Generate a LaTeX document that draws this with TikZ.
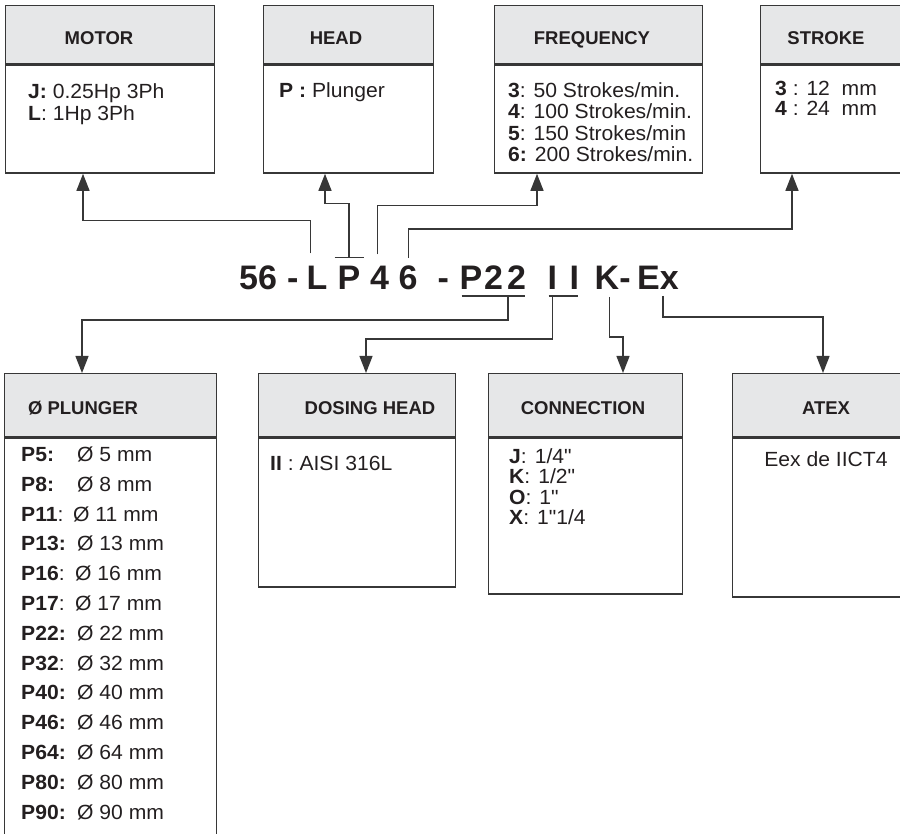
\documentclass[tikz,border=0pt]{standalone}
\usepackage{fontspec}
\setmainfont{Liberation Sans}
\newfontfamily\bodyfont[FakeStretch=1.03,Ligatures=TeXOff]{Liberation Sans}
\usetikzlibrary{arrows.meta,positioning}
\definecolor{HeadGray}{RGB}{230,231,232}
\definecolor{BoxLine}{RGB}{55,55,55}
\definecolor{InkBlack}{RGB}{35,31,32}

\tikzset{
	hdbox/.style={draw=BoxLine, fill=HeadGray, line width=1.4pt, inner sep=0pt, anchor=north west},
	bdbox/.style={draw=BoxLine, line width=1.4pt, inner sep=0pt, anchor=north west},
	hdtxt/.style={font=\fontsize{18.5}{20}\selectfont\bfseries, text=InkBlack, inner sep=0pt, anchor=base},
	bdtxt/.style={font=\bodyfont\fontsize{20.5}{22}\selectfont, text=InkBlack, inner sep=0pt, anchor=base west},
	codetxt/.style={font=\fontsize{34}{36}\selectfont\bfseries, text=InkBlack, inner sep=0pt, anchor=base west},
	conn/.style={draw=BoxLine, line width=1.3pt},
	arr/.style={conn, -{Triangle[length=17pt,width=13pt]}}
}

\begin{document}
\begin{tikzpicture}[x=1pt, y=-1pt]
		\useasboundingbox (0,0) rectangle (900,834);
		\clip (0,0) rectangle (900,834);
		
		% upper boxes
		\node[hdbox, minimum width=209, minimum height=58] (motorhd) at (5,5) {};
		\node[bdbox, minimum width=209, minimum height=108] (motorbd) at (motorhd.south west) {};
		\node[hdbox, minimum width=170, minimum height=58] (headhd) at (263,5) {};
		\node[bdbox, minimum width=170, minimum height=108] (headbd) at (headhd.south west) {};
		\node[hdbox, minimum width=208, minimum height=58] (freqhd) at (494,5) {};
		\node[bdbox, minimum width=208, minimum height=108] (freqbd) at (freqhd.south west) {};
		\node[hdbox, minimum width=160, minimum height=58] (strokehd) at (760,5) {};
		\node[bdbox, minimum width=160, minimum height=108] (strokebd) at (strokehd.south west) {};
		
		\node[hdtxt] (motortx) at ([xshift=94pt,yshift=-40pt]motorhd.north west) {MOTOR};
		\node[hdtxt] (headtx) at ([xshift=73pt,yshift=-40pt]headhd.north west) {HEAD};
		\node[hdtxt] (freqtx) at ([xshift=98pt,yshift=-40pt]freqhd.north west) {FREQUENCY};
		\node[hdtxt] (stroketx) at ([xshift=66pt,yshift=-40pt]strokehd.north west) {STROKE};
		
		\foreach \t [count=\i from 0] in {{\textbf{J:} 0.25Hp 3Ph}, {\textbf{L}: 1Hp 3Ph}}
			\node[bdtxt] (mot\i) at ([xshift=23pt,yshift={-34pt-22.5pt*\i}]motorbd.north west) {\t};
		\node[bdtxt] (hd0) at ([xshift=16pt,yshift=-33pt]headbd.north west) {\textbf{P :} Plunger};
		\foreach \t [count=\i from 0] in {{\textbf{3}: 50 Strokes/min.}, {\textbf{4}: 100 Strokes/min.},
				{\textbf{5}: 150 Strokes/min}, {\textbf{6:} 200 Strokes/min.}}
			\node[bdtxt] (fr\i) at ([xshift=14pt,yshift={-33pt-21.5pt*\i}]freqbd.north west) {\t};
		\foreach \t [count=\i from 0] in {{\textbf{3} : 12\ \ mm}, {\textbf{4} : 24\ \ mm}}
			\node[bdtxt] (st\i) at ([xshift=15pt,yshift={-31pt-20.5pt*\i}]strokebd.north west) {\t};
		
		% order code
		\foreach \nm/\xx/\ch in {c56/239/56, cd1/287/-, cL/306.5/L, cP/337.5/P, c4/370/4, c6/398.5/6,
				cd2/437.5/-, cPb/459.5/P, c22/484/2\kern4pt 2, cI1/547.5/I, cI2/569.5/I, cK/594.5/K-, cEx/637/Ex}
			\node[codetxt] (\nm) at (\xx,290) {\ch};
		
		% links up
		\draw[arr] ([xshift=4pt,yshift=13pt]cL.north west) -- ++(0,-33) -| ([xshift=78pt]motorbd.south west);
		\draw[conn] ([xshift=-3pt,yshift=9pt]cP.north west) -- ([xshift=3pt,yshift=9pt]cP.north east);
		\draw[arr] ([yshift=9pt]cP.north) -- ++(0,-54) -| ([xshift=62pt]headbd.south west);
		\draw[arr] ([xshift=-2pt,yshift=12pt]c4.north) -- ++(0,-49) -| ([xshift=43pt]freqbd.south west);
		\draw[arr] ([yshift=8pt]c6.north) -- ++(0,-29) -| ([xshift=32pt]strokebd.south west);
		
		% underlines
		\draw[conn] ([xshift=2pt,yshift=-6pt]cPb.base west) -- ([xshift=-1pt,yshift=-6pt]c22.base east);
		\draw[conn] ([xshift=1pt,yshift=-6pt]cI1.base west) -- ([xshift=-1pt,yshift=-6pt]cI2.base east);
		
		% lower boxes
		\node[hdbox, minimum width=212, minimum height=63] (plungerhd) at (4,373) {};
		\node[bdbox, minimum width=212, minimum height=420] (plungerbd) at (plungerhd.south west) {};
		\node[hdbox, minimum width=197, minimum height=63] (dosinghd) at (258,373) {};
		\node[bdbox, minimum width=197, minimum height=149] (dosingbd) at (dosinghd.south west) {};
		\node[hdbox, minimum width=194, minimum height=63] (connhd) at (488,373) {};
		\node[bdbox, minimum width=194, minimum height=156] (connbd) at (connhd.south west) {};
		\node[hdbox, minimum width=180, minimum height=63] (atexhd) at (732,373) {};
		\node[bdbox, minimum width=180, minimum height=159] (atexbd) at (atexhd.south west) {};
		
		\node[hdtxt] (plungertx) at ([xshift=79pt,yshift=-41pt]plungerhd.north west) {Ø PLUNGER};
		\node[hdtxt] (dosingtx) at ([xshift=112pt,yshift=-41pt]dosinghd.north west) {DOSING HEAD};
		\node[hdtxt] (conntx) at ([xshift=95pt,yshift=-41pt]connhd.north west) {CONNECTION};
		\node[hdtxt] (atextx) at ([xshift=94pt,yshift=-41pt]atexhd.north west) {ATEX};
		
		\foreach \lb/\ox/\rs [count=\i from 0] in {{\textbf{P5:}}/73/{Ø 5 mm}, {\textbf{P8:}}/73/{Ø 8 mm},
				{\textbf{P11}:}/69/{Ø 11 mm}, {\textbf{P13:}}/73/{Ø 13 mm}, {\textbf{P16}:}/71/{Ø 16 mm},
				{\textbf{P17}:}/71/{Ø 17 mm}, {\textbf{P22:}}/73/{Ø 22 mm}, {\textbf{P32}:}/73/{Ø 32 mm},
				{\textbf{P40:}}/73/{Ø 40 mm}, {\textbf{P46:}}/73/{Ø 46 mm}, {\textbf{P64:}}/73/{Ø 64 mm},
				{\textbf{P80:}}/73/{Ø 80 mm}, {\textbf{P90:}}/73/{Ø 90 mm}}
		{
			\node[bdtxt] (pl\i) at ([xshift=17pt,yshift={-24pt-29.8pt*\i}]plungerbd.north west) {\lb};
			\node[bdtxt] (pd\i) at ([xshift=\ox pt,yshift={-24pt-29.8pt*\i}]plungerbd.north west) {\rs};
		}
		\node[bdtxt] (ds0) at ([xshift=12pt,yshift=-33pt]dosingbd.north west) {\textbf{II} : AISI 316L};
		\foreach \t [count=\i from 0] in {{\textbf{J}:\hspace{8pt}1/4"}, {\textbf{K}:\hspace{8pt}1/2"},
				{\textbf{O}:\hspace{8pt}1"}, {\textbf{X}:\hspace{8pt}1"1/4}}
			\node[bdtxt] (cn\i) at ([xshift=21pt,yshift={-26pt-20.3pt*\i}]connbd.north west) {\t};
		\node[bdtxt, anchor=base] (at0) at ([xshift=94pt,yshift=-29pt]atexbd.north west) {Eex de IICT4};
		
		% links down
		\draw[arr] ([xshift=24pt,yshift=-6pt]c22.base west) -- ++(0,24) -| ([xshift=78pt]plungerhd.north west);
		\draw[arr] ([xshift=5pt,yshift=-6pt]cI1.base west) -- ++(0,43) -| ([xshift=108pt]dosinghd.north west);
		\draw[arr] ([xshift=15pt,yshift=-7pt]cK.base west) -- ++(0,40) -| ([xshift=135pt]connhd.north west);
		\draw[arr] ([xshift=26pt,yshift=-6pt]cEx.base west) -- ++(0,21) -| ([xshift=91pt]atexhd.north west);
	\end{tikzpicture}
\end{document}
